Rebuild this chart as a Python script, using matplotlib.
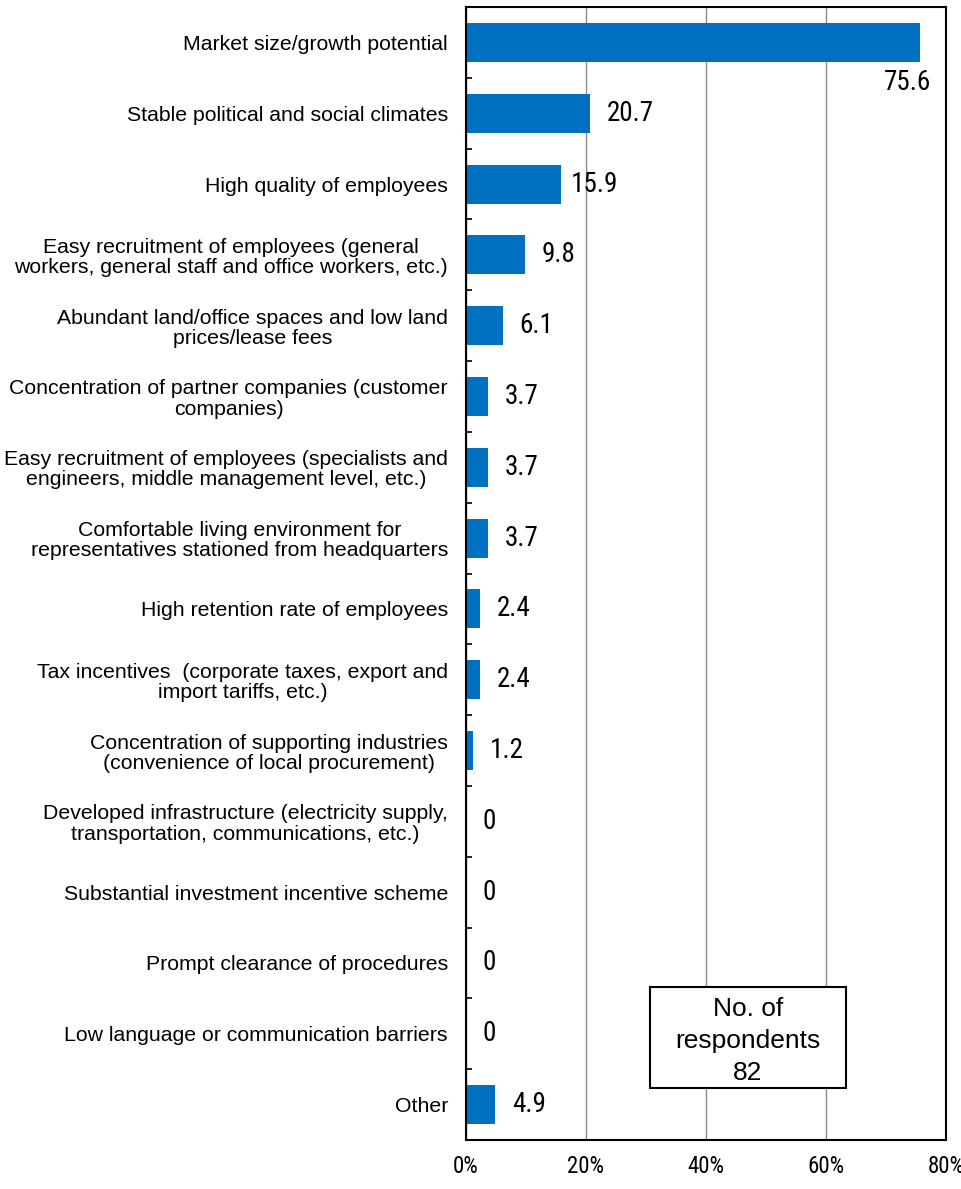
import matplotlib

matplotlib.use("Agg")
import matplotlib.pyplot as plt
from matplotlib import font_manager
from matplotlib.patches import Rectangle
from matplotlib.ticker import FixedLocator

# Data (percent of respondents)
categories = [
    "Market size/growth potential",
    "Stable political and social climates",
    "High quality of employees",
    "Easy recruitment of employees (general\nworkers, general staff and office workers, etc.)",
    "Abundant land/office spaces and low land\nprices/lease fees",
    "Concentration of partner companies (customer\ncompanies)",
    "Easy recruitment of employees (specialists and\nengineers, middle management level, etc.)",
    "Comfortable living environment for\nrepresentatives stationed from headquarters",
    "High retention rate of employees",
    "Tax incentives  (corporate taxes, export and\nimport tariffs, etc.)",
    "Concentration of supporting industries\n(convenience of local procurement)",
    "Developed infrastructure (electricity supply,\ntransportation, communications, etc.)",
    "Substantial investment incentive scheme",
    "Prompt clearance of procedures",
    "Low language or communication barriers",
    "Other",
]
values = [75.6, 20.7, 15.9, 9.8, 6.1, 3.7, 3.7, 3.7, 2.4, 2.4, 1.2, 0, 0, 0, 0, 4.9]
value_labels = ["75.6", "20.7", "15.9", "9.8", "6.1", "3.7", "3.7", "3.7",
                "2.4", "2.4", "1.2", "0", "0", "0", "0", "4.9"]
x_ticks = [0, 20, 40, 60, 80]
x_tick_labels = ["0%", "20%", "40%", "60%", "80%"]
respondents = 82

BAR_COLOR = "#0070C0"
TEXT_FONT = ["Liberation Sans", "DejaVu Sans"]


def pick_narrow_font():
    # the numbers in the original use a narrow gothic face; take a condensed one if there is one
    fonts = font_manager.fontManager.ttflist
    for want in ["Liberation Sans Narrow", "Arial Narrow", "Roboto Condensed",
                 "Open Sans Condensed", "Noto Sans Condensed"]:
        if any(f.name == want for f in fonts):
            return [want], "normal"
    for fam in ["Noto Sans", "Open Sans", "DejaVu Sans", "Roboto"]:
        if any(f.name == fam and f.stretch in ("condensed", "semi-condensed", 75, 87.5)
               for f in fonts):
            return [fam], "condensed"
    return ["Liberation Sans"], "normal"


NUM_FONT, NUM_STRETCH = pick_narrow_font()

fig = plt.figure(figsize=(9.61, 11.89), dpi=100)
ax = fig.add_axes([466 / 961, 1 - 1140 / 1189, 480 / 961, 1133 / 1189])

pos = list(range(len(categories)))
ax.barh(pos, values, height=0.55, color=BAR_COLOR, zorder=3)

ax.set_xlim(0, 80)
ax.set_ylim(len(categories) - 0.5, -0.5)

# vertical gridlines
ax.set_xticks(x_ticks)
ax.set_xticklabels(x_tick_labels, fontsize=16.5, family=NUM_FONT, stretch=NUM_STRETCH)
ax.grid(axis="x", color="#8c8c8c", linewidth=1.0, zorder=1)
ax.tick_params(axis="x", length=0, pad=11)

# category labels, with small inward ticks at category boundaries
ax.set_yticks(pos)
ax.set_yticklabels(categories, fontsize=15.3, family=TEXT_FONT)
for lab in ax.get_yticklabels():
    lab.set_multialignment("center")
    lab.set_linespacing(1.08)
ax.tick_params(axis="y", which="major", length=0, pad=13)
ax.yaxis.set_minor_locator(FixedLocator([p + 0.5 for p in pos[:-1]]))
ax.tick_params(axis="y", which="minor", direction="in", length=4, width=1.2)

for sp in ax.spines.values():
    sp.set_linewidth(1.5)
    sp.set_color("black")
    sp.set_zorder(4)

# value labels
for i, (v, txt) in enumerate(zip(values, value_labels)):
    if i == 0:
        ax.text(v + 1.9, i + 0.57, txt, ha="right", va="center",
                fontsize=19.5, family=NUM_FONT, stretch=NUM_STRETCH)
    else:
        off = 7 if i == 2 else 12
        ax.annotate(txt, (v, i), xytext=(off, 0), textcoords="offset points",
                    ha="left", va="center", fontsize=19.5, family=NUM_FONT,
                    stretch=NUM_STRETCH, zorder=5)

# respondents box
ax.add_patch(Rectangle((30.7, 13.34), 32.6, 1.43, facecolor="white",
                       edgecolor="black", linewidth=1.5, zorder=5))
ax.text(47.0, 14.1, f"No. of\nrespondents\n{respondents}", ha="center",
        va="center", fontsize=19, family=TEXT_FONT, linespacing=1.42, zorder=6)

fig.savefig("out.png", dpi=100)
